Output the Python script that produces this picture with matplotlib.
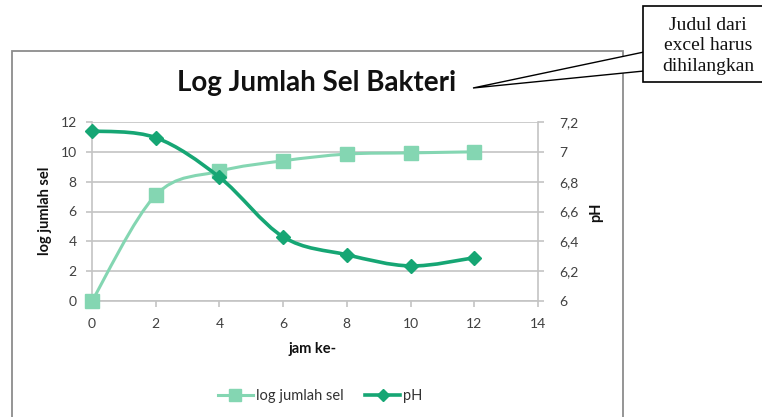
import numpy as np
import matplotlib
matplotlib.use("Agg")
import matplotlib.pyplot as plt
from matplotlib.path import Path
from matplotlib.patches import PathPatch, Rectangle, Polygon
from matplotlib.lines import Line2D

# data
jam = [0, 2, 4, 6, 8, 10, 12]
log_sel = [0.0, 7.1, 8.7, 9.4, 9.85, 9.93, 10.0]
ph = [7.14, 7.095, 6.83, 6.43, 6.31, 6.235, 6.29]

x_ticks = [0, 2, 4, 6, 8, 10, 12, 14]
left_ticks = [0, 2, 4, 6, 8, 10, 12]
right_ticks = [6.0, 6.2, 6.4, 6.6, 6.8, 7.0, 7.2]
right_labels = ["6", "6,2", "6,4", "6,6", "6,8", "7", "7,2"]

c_log = "#84d6b2"
c_ph = "#16a674"
grid_c = "#c4c4c4"
W, H = 762, 417

plt.rcParams['font.family'] = ['Lato', 'DejaVu Sans']


def px(x, y):
    # figure pixel (from top-left) -> figure fraction
    return x / W, 1 - y / H


def smooth_path(xs, ys):
    # excel-like smoothed line (catmull-rom as bezier segments)
    pts = np.column_stack([xs, ys]).astype(float)
    verts = [pts[0]]
    codes = [Path.MOVETO]
    n = len(pts)
    for i in range(n - 1):
        p0 = pts[i - 1] if i > 0 else pts[i]
        p1 = pts[i]
        p2 = pts[i + 1]
        p3 = pts[i + 2] if i + 2 < n else pts[i + 1]
        verts += [p1 + (p2 - p0) / 6, p2 - (p3 - p1) / 6, p2]
        codes += [Path.CURVE4] * 3
    return Path(verts, codes)


fig = plt.figure(figsize=(W / 100, H / 100), dpi=100)

# chart border
x0, y0 = px(12, 51)
fig.patches.append(Rectangle((x0, -0.1), (623 - 12) / W, y0 + 0.1,
                             transform=fig.transFigure, fill=False,
                             edgecolor="#8c8c8c", lw=1.3))

l, t = px(92, 122)
r, b = px(538, 301)
ax = fig.add_axes([l, b, r - l, t - b])
ax2 = ax.twinx()

ax.set_xlim(0, 14)
ax.set_ylim(0, 12)
ax2.set_ylim(6, 7.2)
ax.set_xticks(x_ticks)
ax.set_yticks(left_ticks)
ax2.set_yticks(right_ticks)
ax2.set_yticklabels(right_labels)

ax.yaxis.grid(True, color=grid_c, lw=1.2)
ax.set_axisbelow(True)
ax.spines["top"].set_visible(False)
ax2.spines["top"].set_visible(False)
ax2.spines["left"].set_visible(False)
ax2.spines["bottom"].set_visible(False)
ax.spines["right"].set_visible(False)
for sp in [ax.spines["left"], ax.spines["bottom"], ax2.spines["right"]]:
    sp.set_color(grid_c)
    sp.set_linewidth(1.2)

ax.tick_params(axis="both", length=4, width=1.2, color=grid_c,
               labelsize=10, labelcolor="#404040")
ax.tick_params(axis="y", pad=7)
ax.tick_params(axis="x", pad=8)
ax2.tick_params(axis="y", length=4, width=1.2, color=grid_c,
                labelsize=10, labelcolor="#404040", pad=11)

# curves
ax.add_patch(PathPatch(smooth_path(jam, log_sel), fill=False,
                       edgecolor=c_log, lw=2.2, zorder=3))
ax.plot(jam, log_sel, ls="none", marker="s", ms=10, color=c_log,
        zorder=4, clip_on=False)
ax2.add_patch(PathPatch(smooth_path(jam, ph), fill=False,
                        edgecolor=c_ph, lw=2.6, zorder=3))
ax2.plot(jam, ph, ls="none", marker="D", ms=7, color=c_ph,
         zorder=4, clip_on=False)

# texts
fig.text(*px(317, 83), "Log Jumlah Sel Bakteri", ha="center", va="center",
         fontsize=20, fontweight="bold", color="#111111")
fig.text(*px(45, 211), "log jumlah sel", rotation=90, ha="center",
         va="center", fontsize=10.5, fontweight="bold", color="#111111")
fig.text(*px(596, 212), "pH", rotation=90, ha="center", va="center",
         fontsize=10.5, fontweight="bold", color="#111111")
fig.text(*px(313, 349), "jam ke-", ha="center", va="center",
         fontsize=10.5, fontweight="bold", color="#111111")

# legend
handles = [Line2D([], [], color=c_log, lw=2.2, marker="s", ms=8),
           Line2D([], [], color=c_ph, lw=2.6, marker="D", ms=6)]
fig.legend(handles, ["log jumlah sel", "pH"], loc="center",
           bbox_to_anchor=px(320, 396), ncol=2, frameon=False,
           fontsize=10.5, handlelength=2.4, handletextpad=0.2,
           columnspacing=1.5, labelcolor="#333333")

# callout box
cb = Rectangle(px(643, 82), 0.2, (82 - 6) / H,
               transform=fig.transFigure, facecolor="white",
               edgecolor="black", lw=1.2, zorder=5)
fig.patches.append(cb)
fig.patches.append(Polygon([px(473, 88), px(644, 52), px(644, 71)],
                           closed=True, transform=fig.transFigure,
                           facecolor="white", edgecolor="black", lw=1.0,
                           zorder=4))
fig.text(*px(708, 46), "Judul dari\nexcel harus\ndihilangkan", ha="center",
         va="center", fontsize=14, family="Liberation Serif",
         linespacing=1.3, color="#111111", zorder=6)

fig.savefig("out.png", dpi=100)
